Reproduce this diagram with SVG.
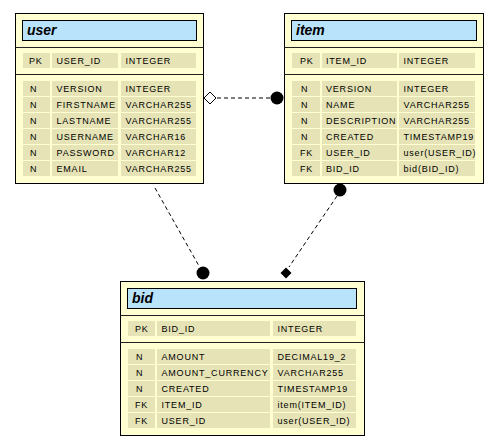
<svg xmlns="http://www.w3.org/2000/svg" width="491" height="437" viewBox="0 0 491 437">
<style>
.box{fill:#FFFFD2;stroke:#000;stroke-width:1}
.title{fill:#B9E3FB;stroke:#000;stroke-width:1}
.sep{stroke:#222;stroke-width:1}
.cell{fill:#E6E4B6}
.t{font-family:"Liberation Sans",Arial,sans-serif;font-size:9px;letter-spacing:0.8px;fill:#000}
.h{font-family:"Liberation Sans",Arial,sans-serif;font-size:14px;font-weight:bold;font-style:italic;fill:#000}
.dash{stroke:#000;stroke-width:1;stroke-dasharray:4 3;fill:none}
</style>
<rect width="491" height="437" fill="#fff"/>
<g id="connectors">
<line class="dash" x1="217" y1="98" x2="270" y2="98"/>
<polygon points="204,98 210,92 216,98 210,104" fill="#fff" stroke="#000" stroke-width="1"/>
<circle cx="277" cy="98" r="6.5" fill="#000"/>
<line class="dash" x1="155" y1="188" x2="199" y2="266"/>
<circle cx="203" cy="273" r="6.5" fill="#000"/>
<line class="dash" x1="337" y1="196" x2="289" y2="267"/>
<circle cx="340" cy="190" r="6.5" fill="#000"/>
<polygon points="280.5,273 286,267.5 291.5,273 286,278.5" fill="#000"/>
</g>
<g id="user">
<rect class="box" x="15.5" y="13.5" width="188" height="170"/>
<rect class="title" x="22.5" y="20.5" width="174" height="20"/>
<text class="h" x="27" y="35">user</text>
<line class="sep" x1="15.5" y1="47.5" x2="203.5" y2="47.5"/>
<line class="sep" x1="15.5" y1="74.5" x2="203.5" y2="74.5"/>
<rect class="cell" x="23" y="53" width="27" height="15"/><rect class="cell" x="52" y="53" width="66" height="15"/><rect class="cell" x="121" y="53" width="75" height="15"/>
<text class="t" x="29" y="64">PK</text><text class="t" x="56.5" y="64">USER_ID</text><text class="t" x="125.5" y="64">INTEGER</text>
<rect class="cell" x="23" y="81" width="27" height="15"/><rect class="cell" x="52" y="81" width="66" height="15"/><rect class="cell" x="121" y="81" width="75" height="15"/>
<text class="t" x="30" y="92">N</text><text class="t" x="56.5" y="92">VERSION</text><text class="t" x="125.5" y="92">INTEGER</text>
<rect class="cell" x="23" y="97" width="27" height="15"/><rect class="cell" x="52" y="97" width="66" height="15"/><rect class="cell" x="121" y="97" width="75" height="15"/>
<text class="t" x="30" y="108">N</text><text class="t" x="56.5" y="108">FIRSTNAME</text><text class="t" x="125.5" y="108">VARCHAR255</text>
<rect class="cell" x="23" y="113" width="27" height="15"/><rect class="cell" x="52" y="113" width="66" height="15"/><rect class="cell" x="121" y="113" width="75" height="15"/>
<text class="t" x="30" y="124">N</text><text class="t" x="56.5" y="124">LASTNAME</text><text class="t" x="125.5" y="124">VARCHAR255</text>
<rect class="cell" x="23" y="129" width="27" height="15"/><rect class="cell" x="52" y="129" width="66" height="15"/><rect class="cell" x="121" y="129" width="75" height="15"/>
<text class="t" x="30" y="140">N</text><text class="t" x="56.5" y="140">USERNAME</text><text class="t" x="125.5" y="140">VARCHAR16</text>
<rect class="cell" x="23" y="145" width="27" height="15"/><rect class="cell" x="52" y="145" width="66" height="15"/><rect class="cell" x="121" y="145" width="75" height="15"/>
<text class="t" x="30" y="156">N</text><text class="t" x="56.5" y="156">PASSWORD</text><text class="t" x="125.5" y="156">VARCHAR12</text>
<rect class="cell" x="23" y="161" width="27" height="15"/><rect class="cell" x="52" y="161" width="66" height="15"/><rect class="cell" x="121" y="161" width="75" height="15"/>
<text class="t" x="30" y="172">N</text><text class="t" x="56.5" y="172">EMAIL</text><text class="t" x="125.5" y="172">VARCHAR255</text>
</g>
<g id="item">
<rect class="box" x="284.5" y="13.5" width="199" height="170"/>
<rect class="title" x="291.5" y="20.5" width="185" height="20"/>
<text class="h" x="296" y="35">item</text>
<line class="sep" x1="284.5" y1="47.5" x2="483.5" y2="47.5"/>
<line class="sep" x1="284.5" y1="74.5" x2="483.5" y2="74.5"/>
<rect class="cell" x="292" y="53" width="28" height="15"/><rect class="cell" x="322" y="53" width="75" height="15"/><rect class="cell" x="399" y="53" width="76" height="15"/>
<text class="t" x="300" y="64">PK</text><text class="t" x="326" y="64">ITEM_ID</text><text class="t" x="403.5" y="64">INTEGER</text>
<rect class="cell" x="292" y="81" width="28" height="15"/><rect class="cell" x="322" y="81" width="75" height="15"/><rect class="cell" x="399" y="81" width="76" height="15"/>
<text class="t" x="301" y="92">N</text><text class="t" x="326" y="92">VERSION</text><text class="t" x="403.5" y="92">INTEGER</text>
<rect class="cell" x="292" y="97" width="28" height="15"/><rect class="cell" x="322" y="97" width="75" height="15"/><rect class="cell" x="399" y="97" width="76" height="15"/>
<text class="t" x="301" y="108">N</text><text class="t" x="326" y="108">NAME</text><text class="t" x="403.5" y="108">VARCHAR255</text>
<rect class="cell" x="292" y="113" width="28" height="15"/><rect class="cell" x="322" y="113" width="75" height="15"/><rect class="cell" x="399" y="113" width="76" height="15"/>
<text class="t" x="301" y="124">N</text><text class="t" x="326" y="124">DESCRIPTION</text><text class="t" x="403.5" y="124">VARCHAR255</text>
<rect class="cell" x="292" y="129" width="28" height="15"/><rect class="cell" x="322" y="129" width="75" height="15"/><rect class="cell" x="399" y="129" width="76" height="15"/>
<text class="t" x="301" y="140">N</text><text class="t" x="326" y="140">CREATED</text><text class="t" x="403.5" y="140">TIMESTAMP19</text>
<rect class="cell" x="292" y="145" width="28" height="15"/><rect class="cell" x="322" y="145" width="75" height="15"/><rect class="cell" x="399" y="145" width="76" height="15"/>
<text class="t" x="300" y="156">FK</text><text class="t" x="326" y="156">USER_ID</text><text class="t" x="403.5" y="156">user(USER_ID)</text>
<rect class="cell" x="292" y="161" width="28" height="15"/><rect class="cell" x="322" y="161" width="75" height="15"/><rect class="cell" x="399" y="161" width="76" height="15"/>
<text class="t" x="300" y="172">FK</text><text class="t" x="326" y="172">BID_ID</text><text class="t" x="403.5" y="172">bid(BID_ID)</text>
</g>
<g id="bid">
<rect class="box" x="120.5" y="281.5" width="244" height="154"/>
<rect class="title" x="127.5" y="288.5" width="229" height="20"/>
<text class="h" x="132" y="303">bid</text>
<line class="sep" x1="120.5" y1="315.5" x2="364.5" y2="315.5"/>
<line class="sep" x1="120.5" y1="342.5" x2="364.5" y2="342.5"/>
<rect class="cell" x="128" y="321" width="27" height="15"/><rect class="cell" x="157" y="321" width="113" height="15"/><rect class="cell" x="273" y="321" width="83" height="15"/>
<text class="t" x="135" y="332">PK</text><text class="t" x="161.5" y="332">BID_ID</text><text class="t" x="277.5" y="332">INTEGER</text>
<rect class="cell" x="128" y="349" width="27" height="15"/><rect class="cell" x="157" y="349" width="113" height="15"/><rect class="cell" x="273" y="349" width="83" height="15"/>
<text class="t" x="136" y="360">N</text><text class="t" x="161.5" y="360">AMOUNT</text><text class="t" x="277.5" y="360">DECIMAL19_2</text>
<rect class="cell" x="128" y="365" width="27" height="15"/><rect class="cell" x="157" y="365" width="113" height="15"/><rect class="cell" x="273" y="365" width="83" height="15"/>
<text class="t" x="136" y="376">N</text><text class="t" x="161.5" y="376">AMOUNT_CURRENCY</text><text class="t" x="277.5" y="376">VARCHAR255</text>
<rect class="cell" x="128" y="381" width="27" height="15"/><rect class="cell" x="157" y="381" width="113" height="15"/><rect class="cell" x="273" y="381" width="83" height="15"/>
<text class="t" x="136" y="392">N</text><text class="t" x="161.5" y="392">CREATED</text><text class="t" x="277.5" y="392">TIMESTAMP19</text>
<rect class="cell" x="128" y="397" width="27" height="15"/><rect class="cell" x="157" y="397" width="113" height="15"/><rect class="cell" x="273" y="397" width="83" height="15"/>
<text class="t" x="135" y="408">FK</text><text class="t" x="161.5" y="408">ITEM_ID</text><text class="t" x="277.5" y="408">item(ITEM_ID)</text>
<rect class="cell" x="128" y="413" width="27" height="15"/><rect class="cell" x="157" y="413" width="113" height="15"/><rect class="cell" x="273" y="413" width="83" height="15"/>
<text class="t" x="135" y="424">FK</text><text class="t" x="161.5" y="424">USER_ID</text><text class="t" x="277.5" y="424">user(USER_ID)</text>
</g>
</svg>
